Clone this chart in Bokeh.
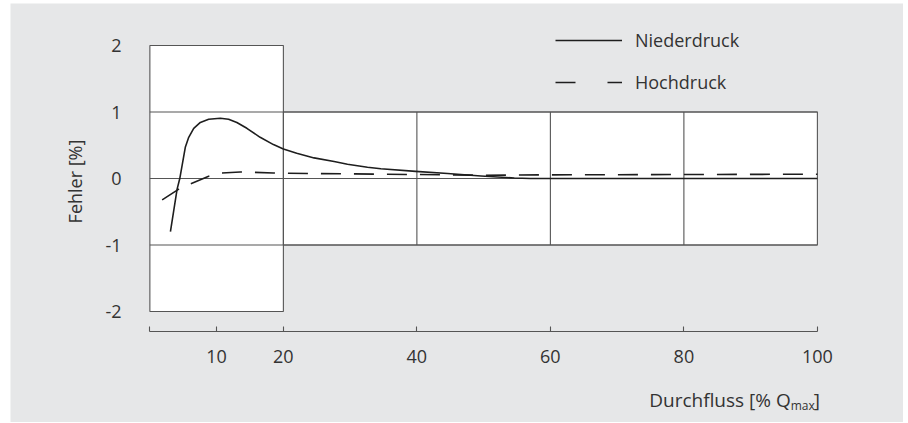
import math
from bokeh.plotting import figure
from bokeh.models import Range1d, FixedTicker, Legend, LegendItem, Label
from bokeh.embed import file_html
from bokeh.resources import INLINE

# ---- data ----
nieder_x = [3.08, 3.58, 4.08, 4.48, 4.93, 5.32, 5.82, 6.57, 7.56, 8.81, 10.55, 11.79, 13.03,
            14.53, 16.52, 18.51, 20.0, 22.0, 24.6, 27.6, 29.6, 32.6, 34.6, 39.8, 44.6, 49.6,
            54.6, 57.0, 80.0, 100.0]
nieder_y = [-0.80, -0.48, -0.16, 0.0, 0.255, 0.475, 0.62, 0.755, 0.843, 0.892, 0.907, 0.892, 0.843,
            0.755, 0.62, 0.51, 0.445, 0.38, 0.31, 0.255, 0.215, 0.17, 0.148, 0.108, 0.075, 0.038,
            0.008, 0.0, 0.0, 0.0]

hoch_x = [1.84, 4.33, 6.07, 8.81, 10.8, 13.53, 15.52, 18.51, 23.6, 30.0, 40.0, 50.0, 60.0, 80.0, 100.0]
hoch_y = [-0.32, -0.16, -0.08, 0.034, 0.083, 0.098, 0.093, 0.083, 0.075, 0.07, 0.06, 0.05, 0.055,
          0.06, 0.065]

x_ticks = [0, 10, 20, 40, 60, 80, 100]
y_ticks = [-2, -1, 0, 1, 2]
grid_v = [40, 60, 80]
grid_h = [-1, 0, 1]
zone_left = [0, 20]
zone_right = [20, 100]
zone_top = [2, 1]
zone_bottom = [-2, -1]
series_names = ["Niederdruck", "Hochdruck"]
x_title = ["Durchfluss [% Q", "max", "]"]
y_title = "Fehler [%]"

BG = "#e6e7e8"
GRID = "#555555"
LINE = "#1e1e1e"
TEXT = "#333333"
FONT = "Open Sans"

p = figure(width=893, height=419, x_range=Range1d(-20.88, 112.9), y_range=Range1d(-3.669, 2.632),
           output_backend="svg", toolbar_location=None, title=None,
           min_border_left=0, min_border_right=0, min_border_top=0, min_border_bottom=0)
p.styles = {"margin-top": "3px", "margin-left": "10px"}
p.background_fill_color = BG
p.border_fill_color = BG
p.outline_line_color = None
p.grid.visible = False

# white zones
p.quad(left=zone_left, right=zone_right, top=zone_top, bottom=zone_bottom,
       fill_color="white", line_color=None)
# grid lines
p.segment(x0=[zone_left[0]] * len(grid_h), x1=[zone_right[-1]] * len(grid_h), y0=grid_h, y1=grid_h,
          line_color=GRID, line_width=1.1)
p.segment(x0=grid_v, x1=grid_v, y0=[zone_bottom[1]] * len(grid_v), y1=[zone_top[1]] * len(grid_v),
          line_color=GRID, line_width=1.1)
p.quad(left=zone_left, right=zone_right, top=zone_top, bottom=zone_bottom,
       fill_color=None, line_color=GRID, line_width=1.1)

# curves
r_n = p.line(nieder_x, nieder_y, line_color=LINE, line_width=1.6, line_join="round")
r_h = p.line(hoch_x, hoch_y, line_color=LINE, line_width=1.6, line_dash="20 13")

# legend-only renderers (single point -> nothing visible in the plot)
leg_n = p.line(x=nieder_x[-1:], y=nieder_y[-1:], line_color=LINE, line_width=1.5)
leg_h = p.line(x=hoch_x[-1:], y=hoch_y[-1:], line_color=LINE, line_width=1.5, line_dash="20 32")
legend = Legend(items=[LegendItem(label=series_names[0], renderers=[leg_n]),
                       LegendItem(label=series_names[1], renderers=[leg_h])],
                location=(545, 328), glyph_width=67, glyph_height=20, label_height=20,
                label_standoff=13, spacing=18, padding=0, margin=0,
                border_line_color=None, background_fill_alpha=0,
                label_text_font_size="18px", label_text_font=FONT, label_text_color=TEXT)
p.add_layout(legend)

# x axis (fixed inside the frame, below the chart area)
xa = p.xaxis[0]
xa.fixed_location = -2.30
xa.ticker = FixedTicker(ticks=x_ticks)
xa.bounds = (x_ticks[0], x_ticks[-1])
xa.major_label_overrides = {0: ""}
xa.major_tick_in = 5
xa.major_tick_out = 0
xa.minor_tick_line_color = None
xa.axis_line_color = GRID
xa.axis_line_width = 1.1
xa.major_tick_line_color = GRID
xa.major_tick_line_width = 1.1
xa.major_label_standoff = 19
xa.major_label_text_font = FONT
xa.major_label_text_font_size = "18px"
xa.major_label_text_color = TEXT

# y axis (fixed at the left edge of the chart area)
ya = p.yaxis[0]
ya.fixed_location = -2
ya.ticker = FixedTicker(ticks=y_ticks)
ya.major_label_overrides = {t: str(t) for t in y_ticks}
ya.axis_line_color = None
ya.major_tick_line_color = None
ya.major_tick_in = 0
ya.major_tick_out = 0
ya.minor_tick_line_color = None
ya.major_label_standoff = 15
ya.major_label_text_font = FONT
ya.major_label_text_font_size = "18px"
ya.major_label_text_color = TEXT

# axis titles
p.add_layout(Label(x=-11.29, y=-0.045, text=y_title, angle=math.pi / 2,
                   text_align="center", text_baseline="middle", text_font=FONT,
                   text_font_size="18px", text_color=TEXT))
p.add_layout(Label(x=96.0, y=-3.328, text=x_title[0],
                   text_align="right", text_baseline="alphabetic", text_font=FONT,
                   text_font_size="19px", text_color=TEXT))
p.add_layout(Label(x=96.0, y=-3.414, text=x_title[1],
                   text_align="left", text_baseline="alphabetic", text_font=FONT,
                   text_font_size="12px", text_color=TEXT))
p.add_layout(Label(x=99.47, y=-3.328, text=x_title[2],
                   text_align="left", text_baseline="alphabetic", text_font=FONT,
                   text_font_size="19px", text_color=TEXT))

open("out.html", "w").write(file_html(p, INLINE))
